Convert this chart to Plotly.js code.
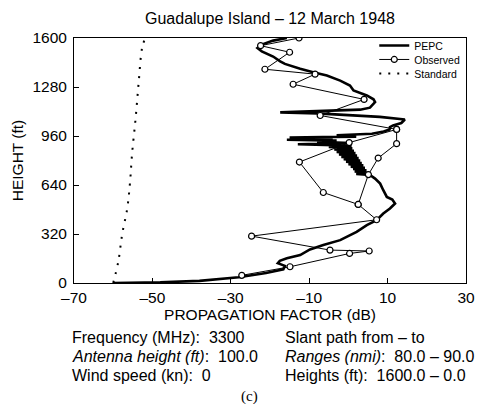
<!DOCTYPE html>
<html>
<head>
<meta charset="utf-8">
<script src="https://cdn.plot.ly/plotly-3.0.1.min.js"></script>
<style>html,body{margin:0;padding:0;background:#fff;}#chart{width:477px;height:404px;}</style>
</head>
<body>
<div id="chart"></div>
<script>
// PEPC model profile (propagation factor dB vs height ft)
const pepcX = [-60, -48, -38, -28, -21, -16.6, -16.2, -18.0, -17.5, -15.7, -12.3, -9.8, -6.4, -2.1, 2.1, 4.7, 7.2, 8.9, 10.6, 11.9, 11.2, 9.8, 8.9, 8.1, 6.8, 5.5,
  2.0, 5.0, 1.6, 4.6, 1.2, 4.2, 0.6, 3.8, 0.0, 3.4, -0.6, 3.0, -1.2, 2.6, -1.8, 2.2, -2.4, 1.8, -3.0, 1.4, -3.6, 1.0, -5.0, 0.8,
  -12.9, 0.5, -8.0, -3.0, -15.7, -4.0, -15.0, 2.0, -3.0, 6.0, 9.0, 10.5, 10.6, 11.4, 13.5, 14.4, 8.0, -2.0, -8.0, -17.4, -5.0, 3.0, 5.5,
  6.8, 6.4, 4.7, 1.3, 0.4, -2.1, -5.5, -9.0, -12.3, -16.2, -17.4, -19.2, -22.1, -23.2, -22.1, -19.2, -15.7];
const pepcH = [0, 4, 14, 38, 65, 89, 112, 130, 145, 161, 182, 219, 248, 280, 334, 378, 410, 454, 487, 519, 545, 562, 606, 649, 682, 705,
  712, 720, 728, 736, 744, 752, 760, 768, 776, 784, 792, 800, 808, 816, 824, 832, 840, 848, 856, 864, 872, 880, 888, 896,
  906, 914, 922, 930, 936, 942, 950, 956, 965, 975, 990, 1003, 1018, 1029, 1045, 1068, 1085, 1100, 1108, 1114, 1122, 1132, 1145,
  1181, 1200, 1225, 1257, 1290, 1322, 1355, 1377, 1399, 1431, 1448, 1479, 1513, 1535, 1557, 1583, 1600];

// Observed profile (null = break between the two drawn strokes)
const obsX = [-12.6, -22.4, -15.0, -21.3, -8.5, -14.1, 4.0, -7.2, 12.3, 0.2, -12.5, -6.4, 2.5, 5.1, 7.6, 12.3, 12.3, null, 2.5, 7.2, -24.7, -4.7, 5.3, 0.3, -14.9, -27.2];
const obsH = [1600, 1550, 1507, 1396, 1364, 1298, 1199, 1094, 1003, 917, 790, 591, 513, 708, 816, 910, 1003, null, 513, 413, 306, 215, 209, 193, 106, 50];

// Standard atmosphere profile
const stdX = [-60.0, -58.7, -57.7, -56.4, -55.7, -55.2, -54.3, -53.5, -52.6, -51.8];
const stdH = [0, 140, 320, 490, 660, 840, 1070, 1310, 1540, 1600];

const xTicks = [-70, -50, -30, -10, 10, 30];
const yTicks = [0, 320, 640, 960, 1280, 1600];

const FONT = "Liberation Sans, Arial, Helvetica, sans-serif";
const NB = "\u00A0";

const traces = [
  {x: pepcX, y: pepcH, type: 'scatter', mode: 'lines', name: 'PEPC', legend: 'legend',
   line: {color: '#000', width: 2.6}},
  {x: obsX, y: obsH, type: 'scatter', mode: 'lines+markers', name: 'Observed', legend: 'legend2',
   connectgaps: false,
   line: {color: '#000', width: 1},
   marker: {symbol: 'circle', size: 6, color: '#fff', line: {color: '#000', width: 1.2}}},
  {x: stdX, y: stdH, type: 'scatter', mode: 'lines', name: 'Standard', legend: 'legend3',
   line: {color: '#000', width: 2, dash: '2px,7px', shape: 'spline'}}
];

function ann(text, px, py, anchor, extra) {
  return Object.assign({
    text: text, xref: 'paper', yref: 'paper',
    x: (px - 74) / 392, y: (283 - py) / 245.5,
    xanchor: anchor, yanchor: 'middle', showarrow: false,
    font: {family: FONT, size: 16, color: '#000'}
  }, extra || {});
}
function leg(py) {
  return {x: 0.766, y: (283 - py) / 245.5, xanchor: 'left', yanchor: 'middle', bgcolor: 'rgba(0,0,0,0)',
          font: {family: FONT, size: 10.5, color: '#000'}, itemwidth: 30};
}

const layout = {
  width: 477, height: 404,
  margin: {l: 74, r: 11, t: 38, b: 121, pad: 0},
  paper_bgcolor: '#fff', plot_bgcolor: '#fff',
  font: {family: FONT, size: 15.5, color: '#000'},
  showlegend: true,
  title: {text: 'Guadalupe Island \u2013 12 March 1948', font: {family: FONT, size: 16, color: '#000'},
          x: 0.566, xanchor: 'center', y: 0.955, yanchor: 'middle'},
  xaxis: {range: [-70, 30], tickvals: xTicks, ticktext: xTicks.map(v => v < 0 ? '\u2013' + Math.abs(v) : String(v)),
          ticks: 'inside', ticklen: 5, tickcolor: '#000', showline: true, linecolor: '#000', linewidth: 1,
          mirror: true, showgrid: false, zeroline: false, fixedrange: true,
          tickfont: {family: FONT, size: 15.5, color: '#000'},
          title: {text: 'PROPAGATION FACTOR (dB)', font: {family: FONT, size: 15.5, color: '#000'}, standoff: 4}},
  yaxis: {range: [0, 1600], tickvals: yTicks, ticks: 'inside', ticklen: 5, tickcolor: '#000',
          showline: true, linecolor: '#000', linewidth: 1, mirror: true, showgrid: false, zeroline: false,
          fixedrange: true, ticklabelstandoff: 3,
          tickfont: {family: FONT, size: 15.5, color: '#000'},
          title: {text: 'HEIGHT (ft)', font: {family: FONT, size: 15.5, color: '#000'}, standoff: 4}},
  legend: leg(45),
  legend2: leg(59),
  legend3: leg(73),
  annotations: [
    ann('Frequency (MHz):' + NB + NB + '3300', 70, 338, 'left'),
    ann('<i>Antenna height (ft)</i>:' + NB + NB + '100.0', 70, 357, 'left'),
    ann('Wind speed (kn):' + NB + NB + '0', 70, 376, 'left'),
    ann('Slant path from \u2013 to', 283, 338, 'left'),
    ann('<i>Ranges (nmi)</i>:' + NB + NB + '80.0 \u2013 90.0', 283, 357, 'left'),
    ann('Heights (ft):' + NB + NB + '1600.0 \u2013 0.0', 283, 376, 'left'),
    ann('(c)', 249, 397, 'center', {font: {family: 'Liberation Serif, Times New Roman, serif', size: 15, color: '#000'}})
  ]
};

Plotly.newPlot('chart', traces, layout, {displayModeBar: false, staticPlot: true});
</script>
</body>
</html>
